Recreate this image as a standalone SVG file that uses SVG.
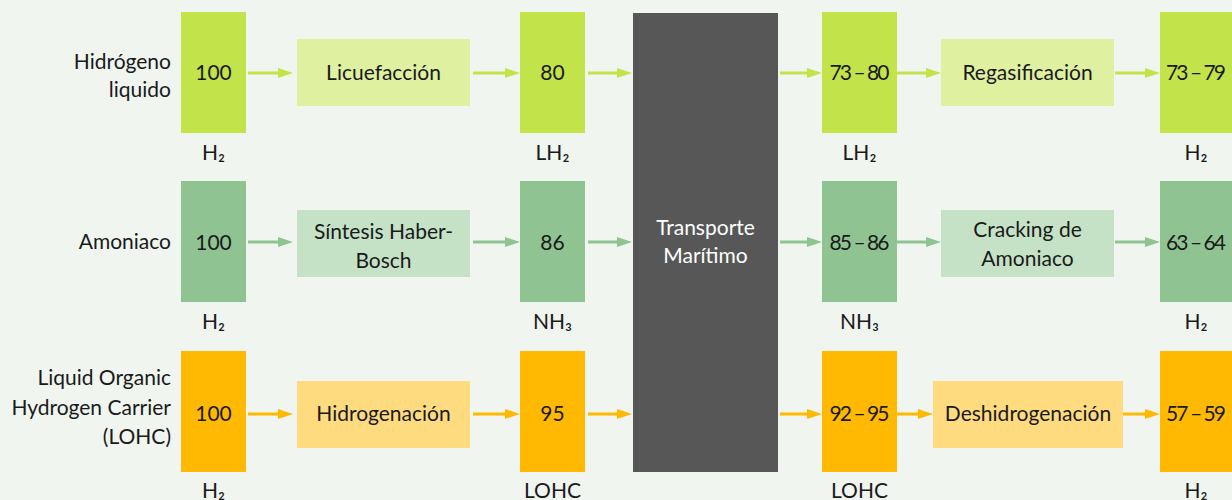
<svg xmlns="http://www.w3.org/2000/svg" width="1232" height="500" viewBox="0 0 1232 500">
<defs>
<style>
text{font-family:"Lato","Noto Sans","DejaVu Sans",sans-serif;font-size:21px;fill:#1a1a1a}
.c{text-anchor:middle}
.r{text-anchor:end}
.w{fill:#ffffff;font-size:21px}
.g1{fill:#c2e34a}.p1{fill:#dff0a0}
.g2{fill:#8fc492}.p2{fill:#c5e2c7}
.g3{fill:#ffb900}.p3{fill:#ffdb80}
.a1{stroke:#c2e34a;stroke-width:3;fill:none}
.a2{stroke:#8fc492;stroke-width:3;fill:none}
.a3{stroke:#ffb900;stroke-width:3;fill:none}
</style>
<marker id="m1" markerUnits="userSpaceOnUse" markerWidth="15" markerHeight="10" refX="0" refY="5" orient="auto"><path d="M0,0 L15,5 L0,10 z" fill="#c2e34a"/></marker>
<marker id="m2" markerUnits="userSpaceOnUse" markerWidth="15" markerHeight="10" refX="0" refY="5" orient="auto"><path d="M0,0 L15,5 L0,10 z" fill="#8fc492"/></marker>
<marker id="m3" markerUnits="userSpaceOnUse" markerWidth="15" markerHeight="10" refX="0" refY="5" orient="auto"><path d="M0,0 L15,5 L0,10 z" fill="#ffb900"/></marker>
</defs>
<rect x="0" y="0" width="1232" height="500" fill="#f0f5f0"/>

<g id="row-labels">
<text class="r" x="171" y="69">Hidrógeno</text>
<text class="r" x="171" y="97">liquido</text>
<text class="r" x="171" y="249">Amoniaco</text>
<text class="r" x="171" y="385">Liquid Organic</text>
<text class="r" x="171" y="415">Hydrogen Carrier</text>
<text class="r" x="171" y="444">(LOHC)</text>
</g>

<g id="transporte">
<rect x="633" y="13" width="145" height="459" fill="#575757"/>
<text class="c w" x="705.5" y="235">Transporte</text>
<text class="c w" x="705.5" y="263">Marítimo</text>
</g>

<!-- Row 1 -->
<g id="lh2-start"><rect class="g1" x="181" y="12" width="65" height="121"/><text class="c" x="213.5" y="80">100</text><text class="c" x="213.5" y="160">H₂</text></g>
<g id="licuefaccion"><rect class="p1" x="297" y="39" width="173" height="67"/><text class="c" x="383.5" y="80">Licuefacción</text></g>
<g id="lh2-80"><rect class="g1" x="520" y="12" width="65" height="121"/><text class="c" x="552.5" y="80">80</text><text class="c" x="552.5" y="160">LH₂</text></g>
<g id="lh2-arr"><rect class="g1" x="822" y="12" width="75" height="121"/><text class="c" x="859.5" y="80" textLength="60" lengthAdjust="spacing">73 – 80</text><text class="c" x="859.5" y="160">LH₂</text></g>
<g id="regasificacion"><rect class="p1" x="941" y="39" width="173" height="67"/><text class="c" x="1027.5" y="80">Regasificación</text></g>
<g id="lh2-end"><rect class="g1" x="1160" y="12" width="72" height="121"/><text class="c" x="1196" y="80" textLength="60" lengthAdjust="spacing">73 – 79</text><text class="c" x="1196" y="160">H₂</text></g>

<!-- Row 2 -->
<g id="nh3-start"><rect class="g2" x="181" y="181" width="65" height="121"/><text class="c" x="213.5" y="250">100</text><text class="c" x="213.5" y="329">H₂</text></g>
<g id="haber-bosch"><rect class="p2" x="297" y="210" width="173" height="67"/><text class="c" x="383.5" y="239">Síntesis Haber-</text><text class="c" x="383.5" y="268">Bosch</text></g>
<g id="nh3-86"><rect class="g2" x="520" y="181" width="65" height="121"/><text class="c" x="552.5" y="250">86</text><text class="c" x="552.5" y="329">NH₃</text></g>
<g id="nh3-arr"><rect class="g2" x="822" y="181" width="75" height="121"/><text class="c" x="859.5" y="250" textLength="60" lengthAdjust="spacing">85 – 86</text><text class="c" x="859.5" y="329">NH₃</text></g>
<g id="cracking"><rect class="p2" x="941" y="210" width="173" height="67"/><text class="c" x="1027.5" y="237">Cracking de</text><text class="c" x="1027.5" y="266">Amoniaco</text></g>
<g id="nh3-end"><rect class="g2" x="1160" y="181" width="72" height="121"/><text class="c" x="1196" y="250" textLength="60" lengthAdjust="spacing">63 – 64</text><text class="c" x="1196" y="329">H₂</text></g>

<!-- Row 3 -->
<g id="lohc-start"><rect class="g3" x="181" y="351" width="65" height="121"/><text class="c" x="213.5" y="421">100</text><text class="c" x="213.5" y="498">H₂</text></g>
<g id="hidrogenacion"><rect class="p3" x="297" y="381" width="173" height="67"/><text class="c" x="383.5" y="421">Hidrogenación</text></g>
<g id="lohc-95"><rect class="g3" x="520" y="351" width="65" height="121"/><text class="c" x="552.5" y="421">95</text><text class="c" x="552.5" y="498">LOHC</text></g>
<g id="lohc-arr"><rect class="g3" x="822" y="351" width="75" height="121"/><text class="c" x="859.5" y="421" textLength="60" lengthAdjust="spacing">92 – 95</text><text class="c" x="859.5" y="498">LOHC</text></g>
<g id="deshidrogenacion"><rect class="p3" x="933" y="381" width="190" height="67"/><text class="c" x="1028" y="421">Deshidrogenación</text></g>
<g id="lohc-end"><rect class="g3" x="1160" y="351" width="72" height="121"/><text class="c" x="1196" y="421" textLength="60" lengthAdjust="spacing">57 – 59</text><text class="c" x="1196" y="498">H₂</text></g>

<g id="connectors">
<path class="a1" marker-end="url(#m1)" d="M248,73 H278"/>
<path class="a1" marker-end="url(#m1)" d="M473,73 H505"/>
<path class="a1" marker-end="url(#m1)" d="M588,73 H617"/>
<path class="a1" marker-end="url(#m1)" d="M780,73 H807"/>
<path class="a1" marker-end="url(#m1)" d="M897,73 H926"/>
<path class="a1" marker-end="url(#m1)" d="M1115,73 H1145"/>

<path class="a2" marker-end="url(#m2)" d="M248,242 H278"/>
<path class="a2" marker-end="url(#m2)" d="M473,242 H505"/>
<path class="a2" marker-end="url(#m2)" d="M588,242 H617"/>
<path class="a2" marker-end="url(#m2)" d="M780,242 H807"/>
<path class="a2" marker-end="url(#m2)" d="M897,242 H926"/>
<path class="a2" marker-end="url(#m2)" d="M1115,242 H1145"/>

<path class="a3" marker-end="url(#m3)" d="M248,414 H278"/>
<path class="a3" marker-end="url(#m3)" d="M473,414 H505"/>
<path class="a3" marker-end="url(#m3)" d="M588,414 H617"/>
<path class="a3" marker-end="url(#m3)" d="M780,414 H807"/>
<path class="a3" marker-end="url(#m3)" d="M897,414 H918"/>
<path class="a3" marker-end="url(#m3)" d="M1123,414 H1145"/>
</g>
</svg>
